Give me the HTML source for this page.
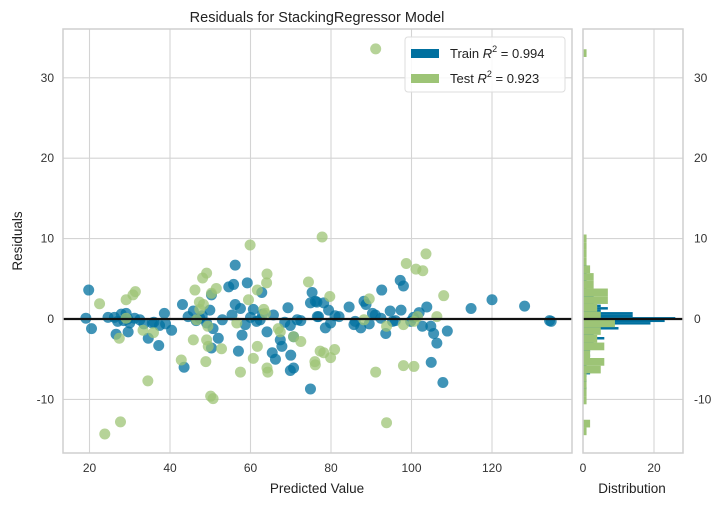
<!DOCTYPE html>
<html><head><meta charset="utf-8"><style>
body{margin:0;background:#fff;font-family:"Liberation Sans","DejaVu Sans",sans-serif}
svg text{font-family:"Liberation Sans","DejaVu Sans",sans-serif}
</style></head><body>
<svg id="chart" width="726" height="505" viewBox="0 0 726 505" xmlns="http://www.w3.org/2000/svg">
<rect width="726" height="505" fill="#fff"/>
<text x="317" y="22" font-size="14.5" text-anchor="middle" fill="#222">Residuals for StackingRegressor Model</text>
<g id="main"></g>
<g id="hist"></g>
<text x="317" y="493" font-size="13.5" text-anchor="middle" fill="#222">Predicted Value</text>
<text transform="translate(22,241) rotate(-90)" font-size="13.5" text-anchor="middle" fill="#222">Residuals</text>
<text x="632" y="493" font-size="13.5" text-anchor="middle" fill="#222">Distribution</text>
<g>
<rect x="405" y="37" width="160" height="55" rx="3" fill="#fff" fill-opacity="0.85" stroke="#ddd"/>
<rect x="411" y="49" width="28" height="9" fill="#00709f"/>
<text x="450" y="58" font-size="13" fill="#222">Train <tspan font-style="italic">R</tspan><tspan dy="-6" font-size="9">2</tspan><tspan dy="6"> = 0.994</tspan></text>
<rect x="411" y="74" width="28" height="9" fill="#9dc476"/>
<text x="450" y="83" font-size="13" fill="#222">Test <tspan font-style="italic">R</tspan><tspan dy="-6" font-size="9">2</tspan><tspan dy="6"> = 0.923</tspan></text>
</g>
</svg>
<script>
const xTicks=[20,40,60,80,100,120];
const yTicks=[-10,0,10,20,30];
const histTicks=[0,20];
const trainX=[19.8,19.1,20.5,24.6,26.2,27.9,29.1,29.5,31.2,32.5,26.6,29.6,34.6,37.2,35.6,37.4,38.6,38.9,40.4,43.1,43.5,45.8,47.4,49.1,50.3,49.9,50.7,52.0,50.3,55.8,56.2,54.6,56.2,55.4,57.5,58.7,57.9,57.0,59.2,60.7,62.4,62.8,64.1,65.7,67.4,67.8,69.3,69.9,71.6,70.7,65.4,66.2,70.0,69.9,70.7,74.9,75.3,74.9,76.5,76.9,76.1,78.2,79.4,76.6,78.6,79.9,82.0,84.5,85.7,87.4,88.2,88.7,89.5,90.3,92.6,92.4,93.6,94.7,95.3,97.2,98.0,97.4,99.8,101.9,102.7,103.8,104.8,105.5,106.3,104.9,107.8,108.9,114.8,120.0,128.1,134.3,134.7,27.0,28.5,30.0,33.5,36.0,44.5,46.5,48.0,53.0,60.0,61.5,63.0,68.5,72.5,81.0,86.0,91.0,96.0,100.5];
const trainY=[3.6,0.1,-1.2,0.2,0.2,0.6,0.7,0.0,0.1,-0.1,-1.9,-1.6,-2.4,-3.3,-0.5,-0.8,0.7,-0.6,-1.4,1.8,-6.0,1.0,0.1,-0.5,3.0,1.1,-1.2,-2.4,-3.6,4.3,6.7,4.0,1.8,0.5,1.3,-0.7,-2.0,-4.0,4.5,1.2,-0.1,3.3,-1.6,0.5,-2.6,-3.4,1.4,-0.8,-0.1,-2.2,-4.2,-5.0,-4.5,-6.4,-6.1,-8.7,3.3,2.0,2.1,0.3,2.2,2.0,1.1,0.3,-1.1,-0.5,0.3,1.5,-0.7,-1.1,2.2,1.8,-0.6,0.7,3.6,0.1,-1.8,1.0,-0.3,4.8,4.1,1.1,-0.3,0.8,-0.9,1.5,-0.9,-1.8,-3.0,-5.4,-7.9,-1.5,1.3,2.4,1.6,-0.2,-0.3,-0.3,-0.2,-0.5,-0.6,-0.4,0.3,-0.2,0.4,-0.1,0.2,-0.3,0.6,-0.4,-0.2,0.4,-0.3,0.5,-0.2,0.2];
const testX=[22.5,27.4,29.1,30.8,31.4,29.1,33.3,35.9,34.5,42.8,46.2,47.3,48.1,49.1,46.6,47.4,48.3,49.4,50.3,51.5,45.8,49.1,49.5,48.9,52.8,50.1,50.7,56.6,57.5,59.5,59.9,60.7,61.7,61.7,63.3,63.7,64.0,64.1,64.1,64.3,66.9,67.4,70.7,72.5,74.4,76.0,77.3,77.8,79.7,76.1,78.2,79.9,80.9,89.5,88.2,91.1,93.8,98.0,98.7,101.1,102.8,103.6,101.5,100.6,98.0,100.6,106.3,108.0,91.1,93.8,23.8,27.7];
const testY=[1.9,-2.4,2.4,3.0,3.4,0.1,-1.4,-1.7,-7.7,-5.1,3.6,2.1,5.1,5.7,-0.1,1.2,1.8,-0.9,3.2,3.8,-2.6,-2.6,-3.4,-5.3,-3.7,-9.6,-9.9,-0.5,-6.6,2.4,9.2,-4.9,-3.4,3.6,1.2,0.7,4.5,5.6,-6.1,-6.6,-1.2,-1.6,-2.2,-2.8,4.6,-5.3,-4.0,10.2,2.8,-5.7,-4.2,-4.8,-3.8,2.5,-0.1,-6.6,-0.9,-0.7,6.9,6.2,6.0,8.1,0.3,-0.3,-5.8,-5.9,0.3,2.9,33.6,-12.9,-14.3,-12.8];
const trainBinStart=-8.75, trainBinWidth=0.31;
const trainCounts=[1,0,0,1,0,1,2,1,2,1,1,2,1,2,1,2,3,2,3,3,6,3,4,4,10,5,19,23,26,14,14,5,7,5,3,3,2,3,2,2,1,2,1,1,1,0,1,0,0,1];
const testBinStart=-14.45, testBinWidth=0.96;
const testCounts=[1,2,0,0,1,1,1,1,5,6,2,6,4,5,9,5,4,7,7,3,3,2,1,1,1,1,0,0,0,0,0,0,0,0,0,0,0,0,0,0,0,0,0,0,0,0,0,0,0,1];

const NS="http://www.w3.org/2000/svg";
const L=63,R=572,T=29,B=453,HL=583,HR=683;
const xS=v=>89.5+(v-20)*4.025;
const yS=v=>319-v*8.04;
const hS=c=>HL+c*3.55;
function mk(tag,attrs,parent){const e=document.createElementNS(NS,tag);for(const k in attrs)e.setAttribute(k,attrs[k]);parent.appendChild(e);return e;}
const main=document.getElementById('main'), hist=document.getElementById('hist');
// scatter panel
mk('rect',{x:L,y:T,width:R-L,height:B-T,fill:'#fff'},main);
xTicks.forEach(t=>{
  const g=mk('line',{x1:xS(t),x2:xS(t),y1:T,y2:B,stroke:'#d4d4d4','stroke-width':1.1},main);
  
  
  const tx=mk('text',{x:xS(t),y:472,'font-size':12,'text-anchor':'middle',fill:'#333'},main);
  tx.textContent=t;
  
  
});
yTicks.forEach(t=>{
  [[L,R],[HL,HR]].forEach(([a,b])=>{
    const g=mk('line',{x1:a,x2:b,y1:yS(t),y2:yS(t),stroke:'#d4d4d4','stroke-width':1.1},main);
    
    
  });
  const tx=mk('text',{x:54,y:yS(t)+4,'font-size':12,'text-anchor':'end',fill:'#333'},main);
  tx.textContent=t;
  
  
  const tx2=mk('text',{x:694,y:yS(t)+4,'font-size':12,fill:'#333'},main);
  tx2.textContent=t;
  
  
});
trainX.forEach((x,i)=>{
  const c=mk('circle',{cx:xS(x),cy:yS(trainY[i]),r:5.5,fill:'#00709f','fill-opacity':0.75},main);
  
  
});
testX.forEach((x,i)=>{
  const c=mk('circle',{cx:xS(x),cy:yS(testY[i]),r:5.5,fill:'#9dc476','fill-opacity':0.75},main);
  
  
});
const zl=mk('line',{x1:L,x2:R,y1:yS(0),y2:yS(0),stroke:'#111','stroke-width':2.2},main);


mk('rect',{x:L,y:T,width:R-L,height:B-T,fill:'none',stroke:'#cfcfcf','stroke-width':1.5},main);
// histogram
histTicks.forEach(t=>{
  const g=mk('line',{x1:hS(t),x2:hS(t),y1:T,y2:B,stroke:'#d4d4d4','stroke-width':1.1},hist);
  
  
  const tx=mk('text',{x:hS(t),y:472,'font-size':12,'text-anchor':'middle',fill:'#333'},hist);
  tx.textContent=t;
  
  
});
trainCounts.forEach((c,i)=>{
  if(!c)return;
  const lo=trainBinStart+i*trainBinWidth, hi=lo+trainBinWidth;
  const b=mk('rect',{x:HL,y:yS(hi),width:hS(c)-HL,height:yS(lo)-yS(hi),fill:'#00709f'},hist);
  
  
});
testCounts.forEach((c,i)=>{
  if(!c)return;
  const lo=testBinStart+i*testBinWidth, hi=lo+testBinWidth;
  const b=mk('rect',{x:HL,y:yS(hi),width:hS(c)-HL,height:yS(lo)-yS(hi),fill:'#9dc476'},hist);
  
  
});
const hz=mk('line',{x1:HL,x2:HR,y1:yS(0),y2:yS(0),stroke:'#111','stroke-width':2.2},hist);


mk('rect',{x:HL,y:T,width:HR-HL,height:B-T,fill:'none',stroke:'#cfcfcf','stroke-width':1.5},hist);
</script>
</body></html>
